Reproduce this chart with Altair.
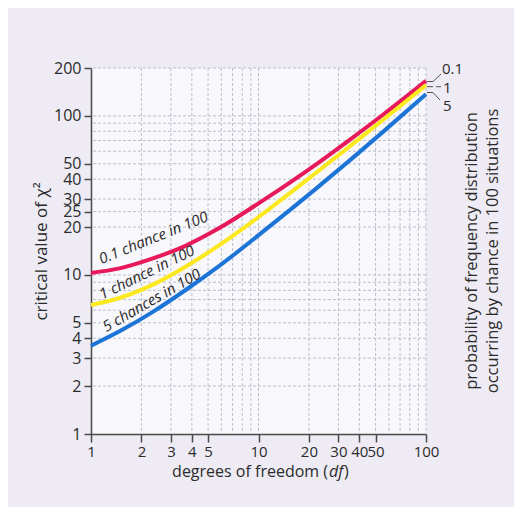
import altair as alt
import pandas as pd

# ---- data ----
series_names = ["0.1", "1", "5"]
df_red = [1, 1.48, 2.34, 3.69, 5.83, 11.1, 22.3, 35.2, 55.6, 100]
chi_red = [10.3, 11.0, 12.7, 15.3, 19.7, 30.3, 50.0, 71.0, 102, 166]
df_yellow = [1, 1.48, 2.34, 3.69, 5.83, 11.1, 16.1, 28.0, 44.3, 69.9, 100]
chi_yellow = [6.47, 7.16, 8.69, 11.3, 15.4, 25.1, 33.9, 53.5, 78.2, 115, 156]
df_blue = [1, 1.48, 2.34, 3.69, 5.83, 11.1, 21.7, 35.2, 55.6, 100]
chi_blue = [3.59, 4.42, 5.86, 8.07, 11.4, 19.4, 34.4, 52.7, 79.6, 137]

x_ticks = [1, 2, 3, 4, 5, 10, 20, 30, 40, 50, 100]
y_ticks = [1, 2, 3, 4, 5, 10, 20, 25, 30, 40, 50, 100, 200]
x_grid = [2, 3, 4, 5, 6, 7, 8, 9, 10, 20, 30, 40, 50, 60, 70, 80, 90, 100]
y_grid = [2, 3, 4, 5, 6, 7, 8, 9, 10, 20, 25, 30, 40, 50, 60, 70, 80, 90, 100, 200]

curve_labels = ["0.1 chance in 100", "1 chance in 100", "5 chances in 100"]
label_df = [2.42, 2.22, 2.38]
label_chi = [16.0, 9.7, 6.5]
label_angle = [338, 334, 330]

colors = ["#e8195b", "#fbe81e", "#1c74d6"]
FONT = "Open Sans"
TXT = "#2b2b2b"

rows = []
for name, xs, ys in zip(series_names, [df_red, df_yellow, df_blue], [chi_red, chi_yellow, chi_blue]):
    for x, y in zip(xs, ys):
        rows.append({"p": name, "df": x, "chi": y})
data = pd.DataFrame(rows)

xscale = alt.Scale(type="log", domain=[1, 100], nice=False, zero=False)
yscale = alt.Scale(type="log", domain=[1, 200], nice=False, zero=False)

xaxis = alt.Axis(values=x_ticks, format="d", labelOverlap=False, grid=False,
                 tickSize=8, tickWidth=1.5, tickColor="#4a4a4a", domainColor="#4a4a4a",
                 domainWidth=1.5, labelFontSize=15, labelColor=TXT, labelFont=FONT,
                 labelPadding=2, labelFlush=False, title=None)
yaxis = alt.Axis(values=y_ticks, format="d", labelOverlap=False, grid=False,
                 tickSize=7, tickWidth=1.5, tickColor="#4a4a4a", domainColor="#4a4a4a",
                 domainWidth=1.5, labelFontSize=16, labelColor=TXT, labelFont=FONT,
                 labelPadding=3, labelFlush=False,
                 title="critical value of χ²", titleFont=FONT, titleFontSize=17,
                 titleFontWeight="normal", titleColor=TXT, titleX=-50, titleY=183,
                 titleAngle=270, titleAlign="center", titleBaseline="middle")

def X(f):
    return alt.X(f, scale=xscale, axis=xaxis)

def Y(f):
    return alt.Y(f, scale=yscale, axis=yaxis)

vgrid = alt.Chart(pd.DataFrame({"v": x_grid})).mark_rule(
    color="#b9c0cc", strokeWidth=1, strokeDash=[3, 2]
).encode(x=X("v:Q"))

hgrid = alt.Chart(pd.DataFrame({"v": y_grid})).mark_rule(
    color="#b9c0cc", strokeWidth=1, strokeDash=[3, 2]
).encode(y=Y("v:Q"))

lines = alt.Chart(data).mark_line(strokeWidth=4, interpolate="monotone").encode(
    x=X("df:Q"),
    y=Y("chi:Q"),
    color=alt.Color("p:N", scale=alt.Scale(domain=series_names, range=colors), legend=None),
    order=alt.Order("df:Q"),
)

layers = [vgrid, hgrid, lines]

for txt, x, y, a in zip(curve_labels, label_df, label_chi, label_angle):
    layers.append(
        alt.Chart(pd.DataFrame({"df": [x], "chi": [y], "t": [txt]})).mark_text(
            font=FONT, fontSize=15, fontStyle="italic", color=TXT, angle=a,
            align="center", baseline="alphabetic"
        ).encode(x=X("df:Q"), y=Y("chi:Q"), text="t:N")
    )

one = alt.Data(values=[{"k": 1}])

def seg(x1, y1, x2, y2):
    return alt.Chart(one).mark_rule(color="#555", strokeWidth=1).encode(
        x=alt.value(x1), y=alt.value(y1), x2=alt.value(x2), y2=alt.value(y2))

def label(t, x, y, size=15, align="left", angle=0, style="normal"):
    return alt.Chart(one).mark_text(
        text=t, font=FONT, fontSize=size, color=TXT, align=align, baseline="middle",
        angle=angle, fontStyle=style
    ).encode(x=alt.value(x), y=alt.value(y))

# leader lines and right-hand labels
layers += [
    seg(336, 13.5, 342, 13.5), seg(342, 13.5, 350, 6),
    seg(336, 18.7, 342, 18.7), seg(345, 18.7, 350, 18.7),
    seg(336, 24.5, 342, 24.5), seg(342, 24.5, 349, 32),
    label("0.1", 351, 1), label("1", 352, 19.5), label("5", 352, 37.5),
]

# right-hand title (two lines, rotated)
layers += [
    label("probability of frequency distribution", 381, 183, size=16.5, align="center", angle=270),
    label("occurring by chance in 100 situations", 402, 183, size=16.5, align="center", angle=270),
]

# x-axis title with italic "df"
layers += [
    label("degrees of freedom (", 237, 404, size=16, align="right"),
    label("df", 238, 404, size=16, align="left", style="italic"),
    label(")", 253, 404, size=16, align="left"),
]

chart = alt.layer(*layers).properties(
    width=335, height=366,
    padding={"left": 83, "top": 60, "right": 88, "bottom": 73},
    autosize=alt.AutoSizeParams(type="none"),
    background="#eeebf4",
).configure_view(stroke=None, fill="#f8f7fb")

chart.save("out.html", embed_options={"renderer": "svg", "actions": False})
